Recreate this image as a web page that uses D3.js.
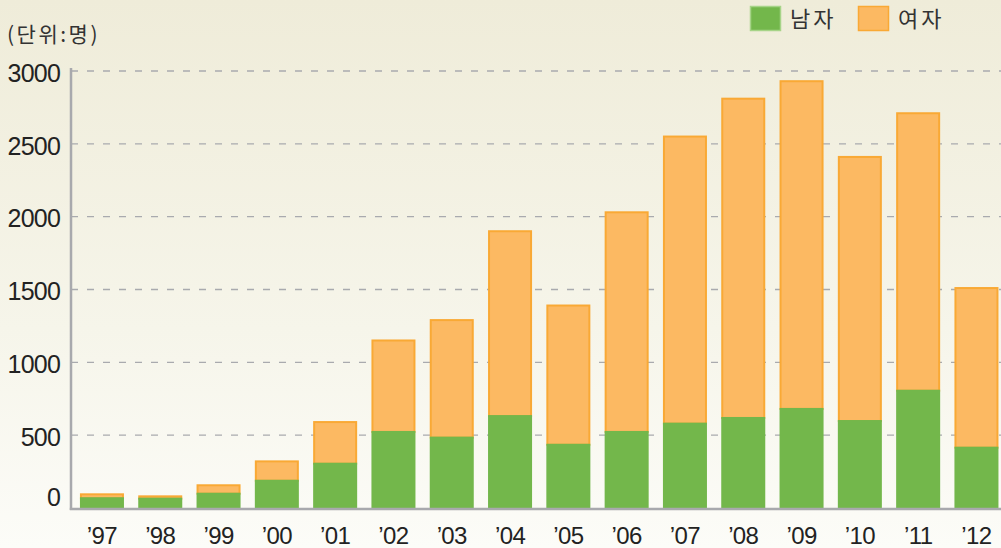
<!DOCTYPE html>
<html>
<head>
<meta charset="utf-8">
<script src="https://cdn.jsdelivr.net/npm/d3@7"></script>
<style>
  body { margin: 0; background: #fafaf4; }
  svg { display: block; font-family: 'Liberation Sans', Arial, sans-serif; }
  .ytick text { font-size: 25px; fill: #222; letter-spacing: -0.8px; }
  .xtick text { font-size: 24px; fill: #222; letter-spacing: -0.6px; }
  .kr { font-family: 'Noto Sans CJK KR', sans-serif; fill: #333; }
</style>
</head>
<body>
<div id="chart"></div>
<script>
// data
const years = ['97', '98', '99', '00', '01', '02', '03', '04', '05', '06', '07', '08', '09', '10', '11', '12']
const male = [67, 64, 98, 187, 304, 522, 483, 631, 434, 522, 579, 618, 680, 597, 805, 414]
const female = [27, 16, 58, 133, 286, 628, 807, 1269, 956, 1508, 1971, 2192, 2250, 1813, 1905, 1096]
const yTicks = [0, 500, 1000, 1500, 2000, 2500, 3000]
const seriesNames = ['남자', '여자']

const width = 1001
const height = 548
const colors = {male: '#73b74b', female: '#fcb962', femaleEdge: '#f9a935'}

const svg = d3.select('#chart').append('svg')
  .attr('width', width)
  .attr('height', height)

// background gradient
const grad = svg.append('defs').append('linearGradient')
  .attr('id', 'bg').attr('x1', 0).attr('y1', 0).attr('x2', 0).attr('y2', 1)
grad.append('stop').attr('offset', '0%').attr('stop-color', '#efecd9')
grad.append('stop').attr('offset', '60%').attr('stop-color', '#f6f5ea')
grad.append('stop').attr('offset', '100%').attr('stop-color', '#fcfcf8')
svg.append('rect').attr('width', width).attr('height', height).attr('fill', 'url(#bg)')

const x = d3.scaleBand()
  .domain(years)
  .range([72.8, 1005.6])
  .paddingInner(0.245)
  .paddingOuter(0.1225)

const y = d3.scaleLinear()
  .domain([0, 3000])
  .range([507, 70])

const axisLeftX = 71

// grid lines
const grid = svg.append('g')
  .attr('transform', `translate(${axisLeftX},0)`)
  .call(d3.axisLeft(y).tickValues(yTicks.filter(t => t > 0)).tickSize(-(width - axisLeftX)).tickFormat(''))
grid.select('.domain').remove()
grid.selectAll('line')
  .attr('stroke', '#a9aaae')
  .attr('stroke-width', 1.3)
  .attr('stroke-dasharray', '7,9')
  .attr('transform', 'translate(0,0.5)')

// y labels
const yAxis = svg.append('g')
  .attr('class', 'ytick')
  .attr('transform', `translate(${axisLeftX - 11},0)`)
  .call(d3.axisLeft(y).tickValues(yTicks).tickSize(0).tickPadding(0).tickFormat(d3.format('d')))
yAxis.select('.domain').remove()
yAxis.selectAll('text')
  .attr('dy', d => d === 0 ? '-0.05em' : '0.45em')
  .style('font-family', "'Liberation Sans', Arial, sans-serif")

// bars
const data = years.map((yr, i) => ({yr, m: male[i], f: female[i], t: male[i] + female[i]}))
const bars = svg.append('g')
bars.selectAll('.fem').data(data).enter().append('rect')
  .attr('class', 'fem')
  .attr('x', d => x(d.yr) + 1)
  .attr('y', d => y(d.t) + 1)
  .attr('width', x.bandwidth() - 2)
  .attr('height', d => y(d.m) - y(d.t))
  .attr('fill', colors.female)
  .attr('stroke', colors.femaleEdge)
  .attr('stroke-width', 2)
bars.selectAll('.mal').data(data).enter().append('rect')
  .attr('class', 'mal')
  .attr('x', d => x(d.yr))
  .attr('y', d => y(d.m))
  .attr('width', x.bandwidth())
  .attr('height', d => y(0) - y(d.m) + 1)
  .attr('fill', colors.male)

// axis lines
svg.append('line')
  .attr('x1', axisLeftX).attr('x2', axisLeftX)
  .attr('y1', 68).attr('y2', 510)
  .attr('stroke', '#a8a9ad').attr('stroke-width', 2.5)
svg.append('line')
  .attr('x1', axisLeftX - 1.2).attr('x2', width)
  .attr('y1', 509).attr('y2', 509)
  .attr('stroke', '#a8a9ad').attr('stroke-width', 2.5)

// x labels
const xAxis = svg.append('g')
  .attr('class', 'xtick')
  .attr('transform', 'translate(0,510)')
  .call(d3.axisBottom(x).tickSize(0).tickPadding(0).tickFormat(d => '\u2019' + d))
xAxis.select('.domain').remove()
xAxis.selectAll('text')
  .attr('dy', '1.4em')
  .style('font-family', "'Liberation Sans', Arial, sans-serif")

// unit label
svg.append('text')
  .attr('class', 'kr')
  .attr('x', 7).attr('y', 42)
  .style('font-size', '21px')
  .style('letter-spacing', '2.5px')
  .text('(단위:명)')

// legend
const legend = svg.append('g')
const legendX = [750, 858]
seriesNames.forEach((name, i) => {
  legend.append('rect')
    .attr('x', legendX[i] + 0.5).attr('y', 6.5)
    .attr('width', 30).attr('height', 24)
    .attr('fill', i === 0 ? colors.male : colors.female)
    .attr('stroke', i === 0 ? '#a6d488' : colors.femaleEdge)
    .attr('stroke-width', 1.5)
  legend.append('text')
    .attr('class', 'kr')
    .attr('x', legendX[i] + 40).attr('y', 27)
    .style('font-size', '22px')
    .style('letter-spacing', '3px')
    .text(name)
})
</script>
</body>
</html>
